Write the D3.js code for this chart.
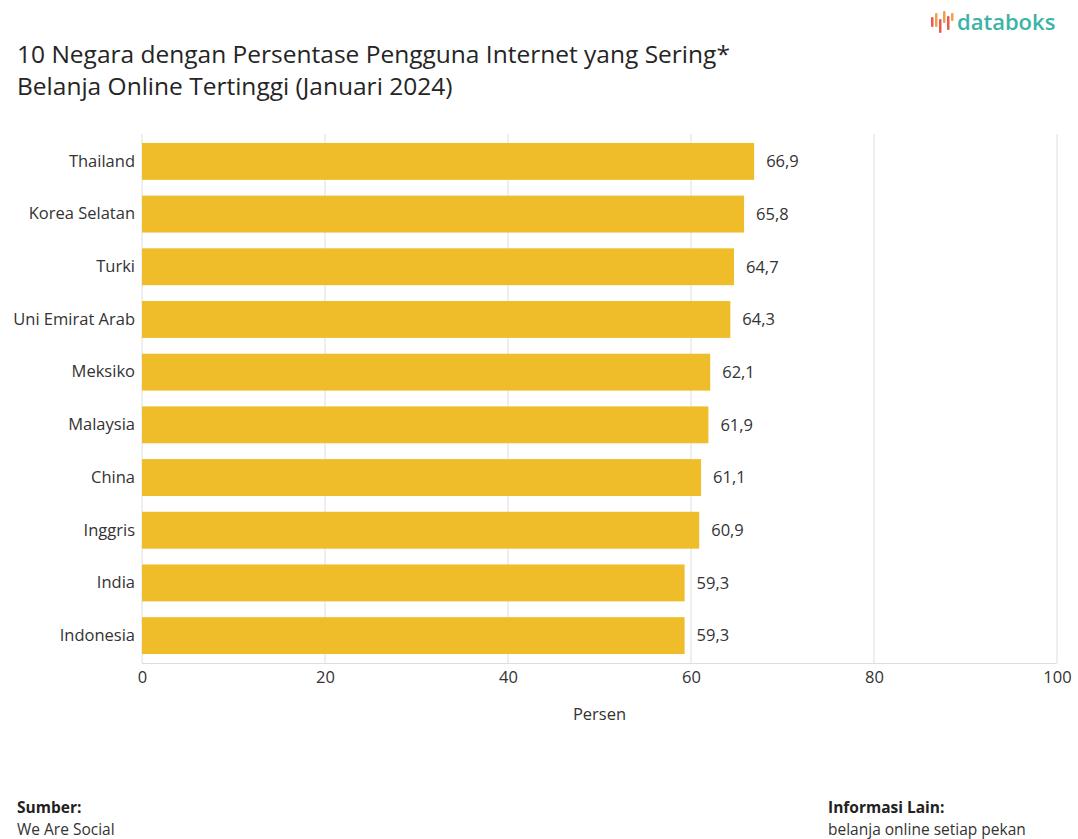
<!DOCTYPE html>
<html><head><meta charset="utf-8">
<script src="https://cdn.jsdelivr.net/npm/d3@7"></script>
<style>body{margin:0;background:#fff}svg{display:block}</style>
</head><body>
<script>
const countries = ["Thailand","Korea Selatan","Turki","Uni Emirat Arab","Meksiko","Malaysia","China","Inggris","India","Indonesia"];
const values = [66.9,65.8,64.7,64.3,62.1,61.9,61.1,60.9,59.3,59.3];
const xTicks = [0,20,40,60,80,100];
const titleLines = ["10 Negara dengan Persentase Pengguna Internet yang Sering*","Belanja Online Tertinggi (Januari 2024)"];

const W=1078,H=839;
const font='"Open Sans","Noto Sans",sans-serif';
const svg=d3.select("body").append("svg").attr("width",W).attr("height",H).style("font-family",font);

const x=d3.scaleLinear().domain([0,100]).range([142,1057]);
const y=d3.scaleBand().domain(countries).range([134,663]).paddingInner(0.3).paddingOuter(0.17);

// title
svg.append("g").selectAll("text").data(titleLines).join("text")
  .attr("x",17).attr("y",(d,i)=>63+i*32).attr("font-size",24.5).attr("fill","#252525").text(d=>d);

// logo
const logo=svg.append("g");
const logoBars=[[0,6,10,"#e8594f"],[4,2,14,"#f0a04b"],[8,8,14,"#e8594f"],[12,0,12,"#f0a04b"],[16,5,14,"#e8594f"],[20,2,8,"#f0a04b"]];
logo.selectAll("rect").data(logoBars).join("rect")
  .attr("x",d=>931+d[0]).attr("y",d=>11+d[1]).attr("width",2.5).attr("height",d=>d[2]).attr("rx",1).attr("fill",d=>d[3]);
logo.append("text").attr("x",957).attr("y",30).attr("font-size",22).attr("font-weight",600).attr("fill","#3bb3a6").text("databoks");

// grid
svg.append("g").selectAll("line").data(xTicks).join("line")
  .attr("x1",d=>x(d)).attr("x2",d=>x(d)).attr("y1",134).attr("y2",663)
  .attr("stroke","#dedede").attr("stroke-width",1);
svg.append("line").attr("x1",x(0)).attr("x2",x(100)).attr("y1",663.5).attr("y2",663.5).attr("stroke","#dedede");

// bars
svg.append("g").selectAll("rect").data(values).join("rect")
  .attr("x",x(0)).attr("y",(d,i)=>y(countries[i])).attr("width",d=>x(d)-x(0)).attr("height",y.bandwidth())
  .attr("fill","#efbc2a");

// value labels
svg.append("g").selectAll("text").data(values).join("text")
  .attr("x",d=>x(d)+12).attr("y",(d,i)=>y(countries[i])+y.bandwidth()/2).attr("dy","0.35em")
  .attr("font-size",16.5).attr("fill","#333").text(d=>d3.format(".1f")(d).replace(".",","));

// y axis labels
const yAxis=d3.axisLeft(y).tickSize(0).tickPadding(7);
const ya=svg.append("g").attr("transform",`translate(${x(0)},0)`).call(yAxis);
ya.select(".domain").remove();
ya.selectAll("text").attr("font-size",16.5).attr("fill","#333").style("font-family",font);

// x axis
const xAxis=d3.axisBottom(x).tickValues(xTicks).tickSize(0).tickPadding(7);
const xa=svg.append("g").attr("transform",`translate(0,664)`).call(xAxis);
xa.select(".domain").remove();
xa.selectAll("text").attr("font-size",16.5).attr("fill","#333").style("font-family",font);

svg.append("text").attr("x",(x(0)+x(100))/2).attr("y",720).attr("text-anchor","middle").attr("font-size",16.5).attr("fill","#333").text("Persen");

// footer
const foot=[[17,"Sumber:","We Are Social"],[828,"Informasi Lain:","belanja online setiap pekan"]];
foot.forEach(f=>{
  svg.append("text").attr("x",f[0]).attr("y",813).attr("font-size",15.5).attr("font-weight",700).attr("fill","#222").text(f[1]);
  svg.append("text").attr("x",f[0]).attr("y",835).attr("font-size",15.5).attr("fill","#333").text(f[2]);
});
</script>
</body></html>
